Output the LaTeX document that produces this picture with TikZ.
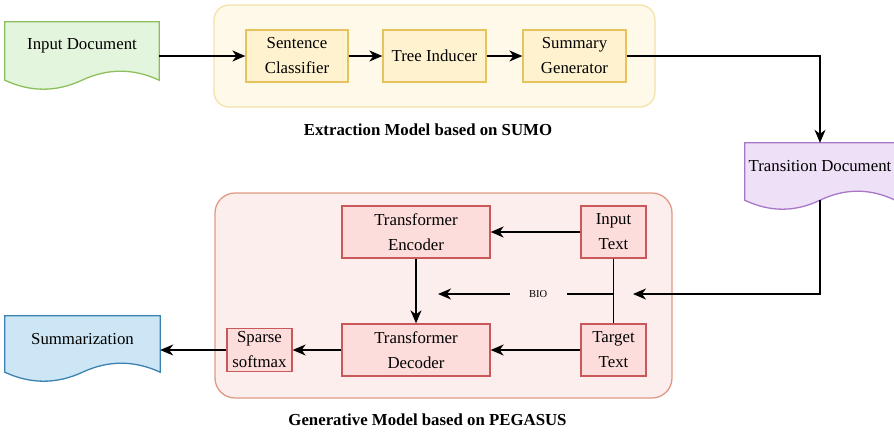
\documentclass[tikz,border=0pt]{standalone}
\usepackage{fontspec}
\setmainfont{Liberation Serif}
\usepackage{tikz}
\usetikzlibrary{arrows.meta}
\usetikzlibrary{calc}
\usetikzlibrary{backgrounds}

\definecolor{docgreen}{HTML}{E3F5DC}
\definecolor{docgreenline}{HTML}{8EBF5E}
\definecolor{docblue}{HTML}{CDE6F5}
\definecolor{docblueline}{HTML}{3B82B0}
\definecolor{docpurple}{HTML}{EEE0F7}
\definecolor{docpurpleline}{HTML}{A877C8}
\definecolor{extfill}{HTML}{FEF9E9}
\definecolor{extline}{HTML}{F4E1AC}
\definecolor{yboxfill}{HTML}{FFF3CF}
\definecolor{yboxline}{HTML}{E6C35C}
\definecolor{genfill}{HTML}{FDEEEE}
\definecolor{genline}{HTML}{DF9A84}
\definecolor{rboxfill}{HTML}{FDDCDC}
\definecolor{rboxline}{HTML}{C9585A}

% wavy bottom of a document node: #1 node, #2 fill, #3 line colour
\newcommand\docwave[3]{%
  \begin{scope}[on background layer]
  \path[fill=#2,draw=#3,line width=1.3pt]
    let \p1=(#1.north west), \p2=(#1.south east), \n1={\x2-\x1}, \n2={\y2-10pt} in
    (\p1) -- (\x2,\y1) -- (\x2,\n2)
    .. controls (\x2-\n1/6,\n2+12pt) and (\x1+2*\n1/3,\n2+12pt) .. (\x1+\n1/2,\n2)
    .. controls (\x1+\n1/3,\n2-12pt) and (\x1+\n1/6,\n2-12pt) .. (\x1,\n2) -- cycle;
  \end{scope}}

\begin{document}
\begin{tikzpicture}[x=1pt,y=-1pt,
    every node/.style={font=\fontsize{16.8}{25}\selectfont},
    doc/.style={inner sep=0pt,minimum height=48pt},
    group/.style={draw,line width=1.3pt,rounded corners=15pt},
    ybox/.style={draw=yboxline,fill=yboxfill,line width=1.3pt,align=center,
      inner sep=2pt,minimum width=103pt,minimum height=52pt},
    rbox/.style={draw=rboxline,fill=rboxfill,line width=1.3pt,align=center,
      inner sep=2pt,minimum height=52pt},
    title/.style={font=\fontsize{16.8}{20}\selectfont\bfseries},
    bio/.style={font=\fontsize{10.5}{12}\selectfont,fill=genfill,inner sep=0pt,
      minimum width=57pt,minimum height=12pt},
    arr/.style={line width=1.3pt,-{Stealth[length=13pt,width=11pt,inset=4pt]}},
    ln/.style={line width=1.3pt}]
  \useasboundingbox (0,0) rectangle (894,432);

  % groups
  \node[group,draw=extline,fill=extfill,minimum width=441pt,minimum height=102pt]
    (ext) at (434.5,56) {};
  \node[group,draw=genline,fill=genfill,minimum width=457pt,minimum height=205pt,
    rounded corners=20pt] (gen) at (443.5,295.5) {};
  \node[title] (exttitle) at (428,130) {Extraction Model based on SUMO};
  \node[title] (gentitle) at (427.5,420) {Generative Model based on PEGASUS};

  % documents
  \node[doc,minimum width=154pt] (indoc) at (82,46) {Input Document};
  \node[doc,minimum width=150pt,minimum height=47pt] (tdoc) at (820,166.5) {Transition Document};
  \node[doc,minimum width=155pt,minimum height=46pt] (sumdoc) at (82.5,339) {Summarization};
  \docwave{indoc}{docgreen}{docgreenline}
  \docwave{tdoc}{docpurple}{docpurpleline}
  \docwave{sumdoc}{docblue}{docblueline}

  % extraction model
  \node[ybox,minimum width=102pt] (sc) at (297,56) {Sentence\\Classifier};
  \node[ybox] (ti) at (434.5,56) {Tree Inducer};
  \node[ybox] (sg) at (574.5,56) {Summary\\Generator};

  % generative model
  \node[rbox,minimum width=148pt] (enc) at (416,232) {Transformer\\Encoder};
  \node[rbox,minimum width=148pt] (dec) at (416,350) {Transformer\\Decoder};
  \node[rbox,minimum width=65pt] (intxt) at (613.5,232) {Input\\Text};
  \node[rbox,minimum width=65pt] (tgt) at (613.5,350) {Target\\Text};
  \node[rbox,minimum width=65pt,minimum height=43pt] (smax) at (259.5,350) {Sparse\\softmax};

  \coordinate (junc) at (613.5,294);
  \coordinate (bioend) at (438,294);
  \coordinate (tin) at (633,294);

  \path[arr]
    (indoc.east |- sc.west) edge (sc.west)
    (sc) edge (ti)
    (ti) edge (sg)
    (intxt) edge (enc)
    (enc) edge (dec)
    (tgt) edge (dec)
    (dec) edge (smax)
    (smax.west) edge (sumdoc.east |- smax.west)
    (junc) edge node[bio,pos=0.43] {BIO} (bioend);
  \draw[arr] (sg.east) -| (tdoc.north);
  \draw[arr] ($(tdoc.south)+(0,10)$) |- (tin);
  \draw[ln] (intxt) -- (tgt);
\end{tikzpicture}
\end{document}
